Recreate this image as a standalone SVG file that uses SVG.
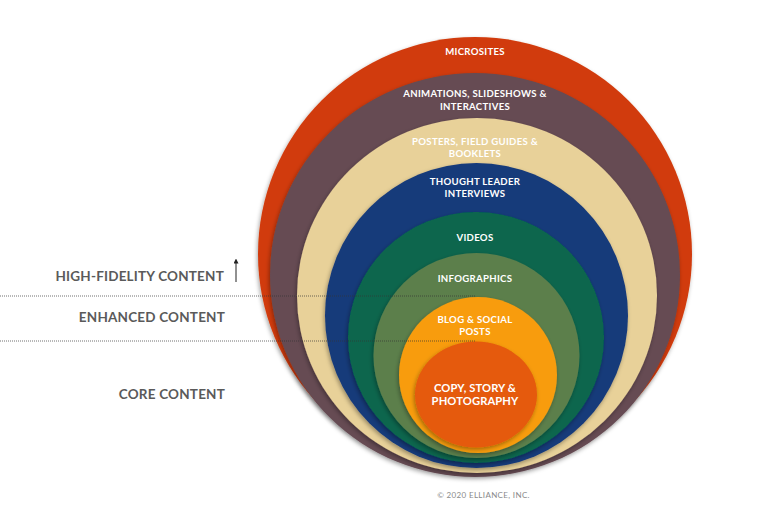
<svg xmlns="http://www.w3.org/2000/svg" width="768" height="512" viewBox="0 0 768 512">
<style>
.lbl{font-family:Lato,"Open Sans","Liberation Sans",sans-serif;font-weight:700;fill:#fff;text-anchor:middle;font-size:9.6px;letter-spacing:0.3px}
.big{font-size:11.2px;letter-spacing:0.1px}
.side{font-family:Lato,"Open Sans","Liberation Sans",sans-serif;font-weight:700;fill:#5a5a5a;text-anchor:end;font-size:13.5px;letter-spacing:0.2px}
.copy{font-family:Lato,"Open Sans","Liberation Sans",sans-serif;fill:#8a8a8a;text-anchor:middle;font-size:8px;letter-spacing:0.35px}
.ring{filter:url(#sh)}
.dot{stroke:#333;stroke-opacity:0.7;stroke-width:1;stroke-dasharray:1 1;fill:none}
</style>
<defs>
<filter id="sh" x="-10%" y="-10%" width="120%" height="125%">
<feDropShadow dx="-1" dy="2" stdDeviation="2" flood-color="#000" flood-opacity="0.35"/>
</filter>
<marker id="ah" viewBox="0 0 10 10" refX="5" refY="5" markerWidth="5" markerHeight="5" orient="auto-start-reverse">
<path d="M0,0 L10,5 L0,10 z" fill="#222"/>
</marker>
</defs>
<rect width="768" height="512" fill="#fff"/>
<g id="microsites"><ellipse class="ring" cx="475" cy="254" rx="217" ry="217" fill="#d13b0a"/><text class="lbl" x="475" y="55">MICROSITES</text></g>
<g id="animations"><ellipse class="ring" cx="475" cy="275" rx="205" ry="202" fill="#664b53"/><text class="lbl" x="475" y="97">ANIMATIONS, SLIDESHOWS &amp;</text><text class="lbl" x="475" y="109.5">INTERACTIVES</text></g>
<g id="posters"><ellipse class="ring" cx="477" cy="295.5" rx="180" ry="177.5" fill="#e8d199"/><text class="lbl" x="475" y="144.5">POSTERS, FIELD GUIDES &amp;</text><text class="lbl" x="475" y="157">BOOKLETS</text></g>
<g id="interviews"><ellipse class="ring" cx="476.5" cy="315.5" rx="151.5" ry="152.5" fill="#173a7a"/><text class="lbl" x="475" y="184.5">THOUGHT LEADER</text><text class="lbl" x="475" y="197">INTERVIEWS</text></g>
<g id="videos"><ellipse class="ring" cx="476" cy="337.5" rx="128" ry="125.5" fill="#08664e"/><text class="lbl" x="475" y="241">VIDEOS</text></g>
<g id="infographics"><ellipse class="ring" cx="476.5" cy="355.5" rx="103" ry="102.5" fill="#5b7f4c"/><text class="lbl" x="475" y="282">INFOGRAPHICS</text></g>
<g id="blog"><ellipse class="ring" cx="478" cy="375" rx="79" ry="78" fill="#f89c0e"/><text class="lbl" x="475" y="322.5">BLOG &amp; SOCIAL</text><text class="lbl" x="475" y="335">POSTS</text></g>
<g id="core"><ellipse class="ring" cx="476" cy="394.5" rx="61" ry="53" fill="#e55a0b"/><text class="lbl big" x="475" y="391.5">COPY, STORY &amp;</text><text class="lbl big" x="475" y="404.5">PHOTOGRAPHY</text></g>
<g id="connectors">
<line class="dot" x1="0" y1="296" x2="475" y2="296"/>
<line class="dot" x1="0" y1="341" x2="475" y2="341"/>
<line x1="236" y1="282" x2="236" y2="261" stroke="#222" stroke-width="1" marker-end="url(#ah)"/>
</g>
<g id="labels">
<text class="side" x="224" y="281">HIGH-FIDELITY CONTENT</text>
<text class="side" x="225" y="322">ENHANCED CONTENT</text>
<text class="side" x="225" y="399">CORE CONTENT</text>
<text class="copy" x="483.5" y="498">© 2020 ELLIANCE, INC.</text>
</g>
</svg>
